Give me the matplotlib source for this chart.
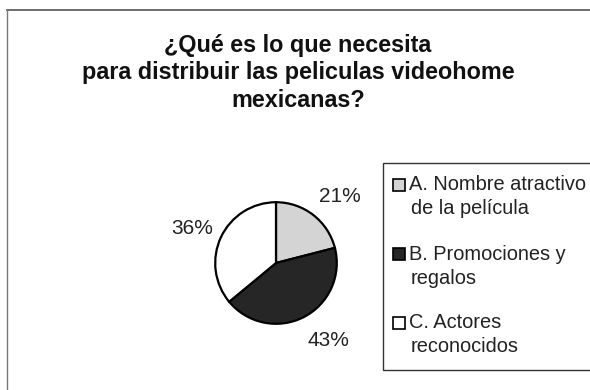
import matplotlib.pyplot as plt
from matplotlib.lines import Line2D
from matplotlib.patches import Rectangle

plt.rcParams['font.family'] = ['Liberation Sans', 'DejaVu Sans']

# respuestas de la encuesta
labels = ['A. Nombre atractivo\nde la película',
          'B. Promociones y\nregalos',
          'C. Actores\nreconocidos']
values = [21, 43, 36]
colors = ['#d4d4d4', '#262626', '#ffffff']

W, H = 590, 390
fig = plt.figure(figsize=(W / 100, H / 100), dpi=100)
fig.patch.set_facecolor('white')


def fx(px):
    return px / W


def fy(py):
    return 1 - py / H


# marco exterior (solo arriba e izquierda quedan dentro de la imagen)
fig.add_artist(Line2D([fx(7), 1.0], [fy(10), fy(10)],
                      transform=fig.transFigure, color='#555555', lw=1.2))
fig.add_artist(Line2D([fx(7), fx(7)], [0.0, fy(10)],
                      transform=fig.transFigure, color='#777777', lw=1.0))

fig.text(fx(298), fy(73),
         '¿Qué es lo que necesita\npara distribuir las peliculas videohome\nmexicanas?',
         ha='center', va='center', fontsize=16.8, fontweight='bold',
         linespacing=1.24, color='#111111')

# eje del pastel: centro (276, 263), radio ~62 px
r = 62
cx, cy = 276, 263
ax = fig.add_axes([fx(cx - r), fy(cy + r), 2 * r / W, 2 * r / H])
wedges, _ = ax.pie(values, colors=colors, startangle=90, counterclock=False,
                   radius=1.0,
                   wedgeprops=dict(edgecolor='black', linewidth=1.6))
ax.set_xlim(-1.02, 1.02)
ax.set_ylim(-1.02, 1.02)
ax.set_aspect('equal')

# etiquetas de porcentaje (A, B, C)
pct_pos = [(340, 196), (328, 341), (192, 229)]
for v, (px, py) in zip(values, pct_pos):
    fig.text(fx(px), fy(py), f'{v}%', ha='center', va='center',
             fontsize=15, color='#222222')

# leyenda: caja que sale por el borde derecho
fig.add_artist(Rectangle((fx(383), fy(370)), 0.5, (370 - 163) / H,
                         transform=fig.transFigure, facecolor='white',
                         edgecolor='#333333', lw=1.0))
sq = 12
for i, (lab, c) in enumerate(zip(labels, colors)):
    y0 = 185 + 69 * i
    fig.add_artist(Rectangle((fx(393), fy(y0 + sq / 2)), sq / W, sq / H,
                             transform=fig.transFigure, facecolor=c,
                             edgecolor='black', lw=1.2))
    for j, line in enumerate(lab.split('\n')):
        fig.text(fx(409 if j == 0 else 411), fy(y0 + 24 * j), line,
                 ha='left', va='center', fontsize=14.4, color='#222222')

fig.savefig('out.png', dpi=100)
